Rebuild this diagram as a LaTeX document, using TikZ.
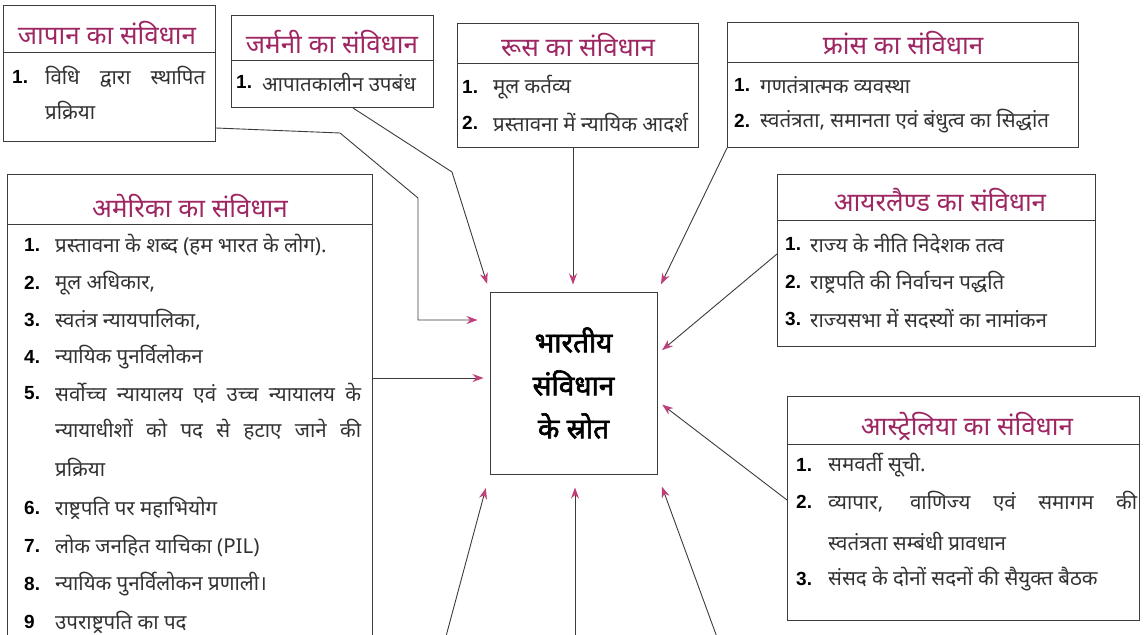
\documentclass[tikz,border=0pt]{standalone}
\usepackage{fontspec}
\newfontfamily\hindi[Script=Devanagari]{Noto Sans}
\newfontfamily\hindibf[Script=Devanagari,FakeBold=2.2]{Noto Sans}
\newfontfamily\numfont{Liberation Sans}
\usetikzlibrary{arrows.meta}
\definecolor{hdr}{RGB}{158,38,98}
\definecolor{tipc}{RGB}{192,62,122}
\definecolor{ln}{RGB}{60,60,60}
\definecolor{txt}{RGB}{50,50,50}
\begin{document}
\begin{tikzpicture}[x=1pt,y=-1pt,
  panel/.style={draw=ln,line width=1pt,inner sep=0pt,anchor=north west},
  divider/.style={draw=ln,line width=0.9pt},
  head/.style={text=hdr,font=\hindi\fontsize{26}{30}\selectfont,inner sep=0pt},
  item/.style={text=txt,font=\hindi\fontsize{20.5}{24}\selectfont,anchor=west,inner sep=0pt},
  num/.style={text=black,font=\numfont\bfseries\fontsize{19}{23}\selectfont,anchor=west,inner sep=0pt},
  conn/.style={draw=ln,line width=0.9pt,-{Stealth[length=11pt,width=8pt,color=tipc]}},
]
\path[use as bounding box,fill=white] (0,0) rectangle (1147,634);
\clip (0,0) rectangle (1147,634);

% ---------- Japan ----------
\node[panel,minimum width=212pt,minimum height=136pt] (japan) at (3,5) {};
\draw[divider] (japan.west |- 0,52) -- (japan.east |- 0,52);
\node[head] (japanH) at (107,33) {जापान का संविधान};
\node[num] (japanN1) at (12,77) {1.};
\node[item] (japanT1) at (45,77) {\makebox[160pt][s]{विधि द्वारा स्थापित}};
\node[item] (japanT1b) at (45,110) {प्रक्रिया};

% ---------- Germany ----------
\node[panel,minimum width=202pt,minimum height=92pt] (germany) at (231,15) {};
\draw[divider] (germany.west |- 0,60) -- (germany.east |- 0,60);
\node[head] (germanyH) at (332,42) {जर्मनी का संविधान};
\node[num] (germanyN1) at (236,82) {1.};
\node[item] (germanyT1) at (262,82) {आपातकालीन उपबंध};

% ---------- Russia ----------
\node[panel,minimum width=241pt,minimum height=124pt] (russia) at (457,23) {};
\draw[divider] (russia.west |- 0,63) -- (russia.east |- 0,63);
\node[head] (russiaH) at (578,45) {रूस का संविधान};
\node[num] (russiaN1) at (462,87) {1.};
\node[item] (russiaT1) at (493,87) {मूल कर्तव्य};
\node[num] (russiaN2) at (462,123) {2.};
\node[item] (russiaT2) at (493,123) {प्रस्तावना में न्यायिक आदर्श};

% ---------- France ----------
\node[panel,minimum width=351pt,minimum height=125pt] (france) at (727,22) {};
\draw[divider] (france.west |- 0,62) -- (france.east |- 0,62);
\node[head] (franceH) at (903,43) {फ्रांस का संविधान};
\node[num] (franceN1) at (734,85) {1.};
\node[item] (franceT1) at (760,85) {गणतंत्रात्मक व्यवस्था};
\node[num] (franceN2) at (734,121) {2.};
\node[item] (franceT2) at (760,121) {स्वतंत्रता, समानता एवं बंधुत्व का सिद्धांत};

% ---------- America ----------
\node[panel,minimum width=365pt,minimum height=500pt] (america) at (7,174) {};
\draw[divider] (america.west |- 0,224) -- (america.east |- 0,224);
\node[head] (americaH) at (190,206) {अमेरिका का संविधान};
\node[num] (americaN1) at (24,245) {1.};
\node[item] (americaT1) at (55,245) {प्रस्तावना के शब्द (हम भारत के लोग).};
\node[num] (americaN2) at (24,283) {2.};
\node[item] (americaT2) at (55,283) {मूल अधिकार,};
\node[num] (americaN3) at (24,320) {3.};
\node[item] (americaT3) at (55,320) {स्वतंत्र न्यायपालिका,};
\node[num] (americaN4) at (24,357) {4.};
\node[item] (americaT4) at (55,357) {न्यायिक पुनर्विलोकन};
\node[num] (americaN5) at (24,393) {5.};
\node[item] (americaT5) at (55,393) {\makebox[306pt][s]{सर्वोच्च न्यायालय एवं उच्च न्यायालय के}};
\node[item] (americaT5b) at (55,430) {\makebox[306pt][s]{न्यायाधीशों को पद से हटाए जाने की}};
\node[item] (americaT5c) at (55,467) {प्रक्रिया};
\node[num] (americaN6) at (24,508) {6.};
\node[item] (americaT6) at (55,508) {राष्ट्रपति पर महाभियोग};
\node[num] (americaN7) at (24,546) {7.};
\node[item] (americaT7) at (55,546) {लोक जनहित याचिका (PIL)};
\node[num] (americaN8) at (24,584) {8.};
\node[item] (americaT8) at (55,584) {न्यायिक पुनर्विलोकन प्रणाली।};
\node[num] (americaN9) at (24,622) {9};
\node[item] (americaT9) at (55,622) {उपराष्ट्रपति का पद};

% ---------- Ireland ----------
\node[panel,minimum width=318pt,minimum height=172pt] (ireland) at (777,174) {};
\draw[divider] (ireland.west |- 0,220) -- (ireland.east |- 0,220);
\node[head] (irelandH) at (940,200) {आयरलैण्ड का संविधान};
\node[num] (irelandN1) at (785,244) {1.};
\node[item] (irelandT1) at (810,244) {राज्य के नीति निदेशक तत्व};
\node[num] (irelandN2) at (785,282) {2.};
\node[item] (irelandT2) at (810,282) {राष्ट्रपति की निर्वाचन पद्धति};
\node[num] (irelandN3) at (785,319) {3.};
\node[item] (irelandT3) at (810,319) {राज्यसभा में सदस्यों का नामांकन};

% ---------- Australia ----------
\node[panel,minimum width=352pt,minimum height=224pt] (australia) at (787,396) {};
\draw[divider] (australia.west |- 0,444) -- (australia.east |- 0,444);
\node[head] (australiaH) at (967,427) {आस्ट्रेलिया का संविधान};
\node[num] (australiaN1) at (796,465) {1.};
\node[item] (australiaT1) at (828,465) {समवर्ती सूची.};
\node[num] (australiaN2) at (796,502) {2.};
\node[item] (australiaT2) at (828,502) {\makebox[309pt][s]{व्यापार, वाणिज्य एवं समागम की}};
\node[item] (australiaT2b) at (828,541) {स्वतंत्रता सम्बंधी प्रावधान};
\node[num] (australiaN3) at (796,579) {3.};
\node[item] (australiaT3) at (828,579) {संसद के दोनों सदनों की सैयुक्त बैठक};

% ---------- Centre ----------
\node[draw=ln,line width=1pt,minimum width=167pt,minimum height=182pt,align=center,
      font=\hindibf\fontsize{28}{43}\selectfont] (src) at (573.5,383) {भारतीय\\संविधान\\के स्रोत};

% ---------- Connectors ----------
\coordinate (b1) at (445,640);
\coordinate (b2) at (575,640);
\coordinate (b3) at (718,640);

\draw[conn,shorten >=12pt] (japan.east |- 0,128) -- (340,133) -- (418,198) -- (418,320) -- (src.west |- 0,320);
\draw[conn,shorten >=8pt] (germany.south -| 353,0) -- (452,172) -- (src.north west);
\draw[conn,shorten >=7pt] (russia.south -| 573,0) -- (src.north -| 573,0);
\draw[conn,shorten >=8pt] (france.south west) -- (src.north east);
\draw[conn,shorten >=6pt] (america.east |- 0,378) -- (src.west |- 0,378);
\draw[conn,shorten >=6pt] (ireland.west |- 0,254) -- (src.east |- 0,354);
\draw[conn,shorten >=6pt] (australia.west |- 0,500) -- (src.east |- 0,401);
\draw[conn,shorten >=14pt] (b1) -- (src.south west);
\draw[conn,shorten >=13pt] (b2) -- (src.south -| 575,0);
\draw[conn,shorten >=13pt] (b3) -- (src.south east);
\end{tikzpicture}
\end{document}
